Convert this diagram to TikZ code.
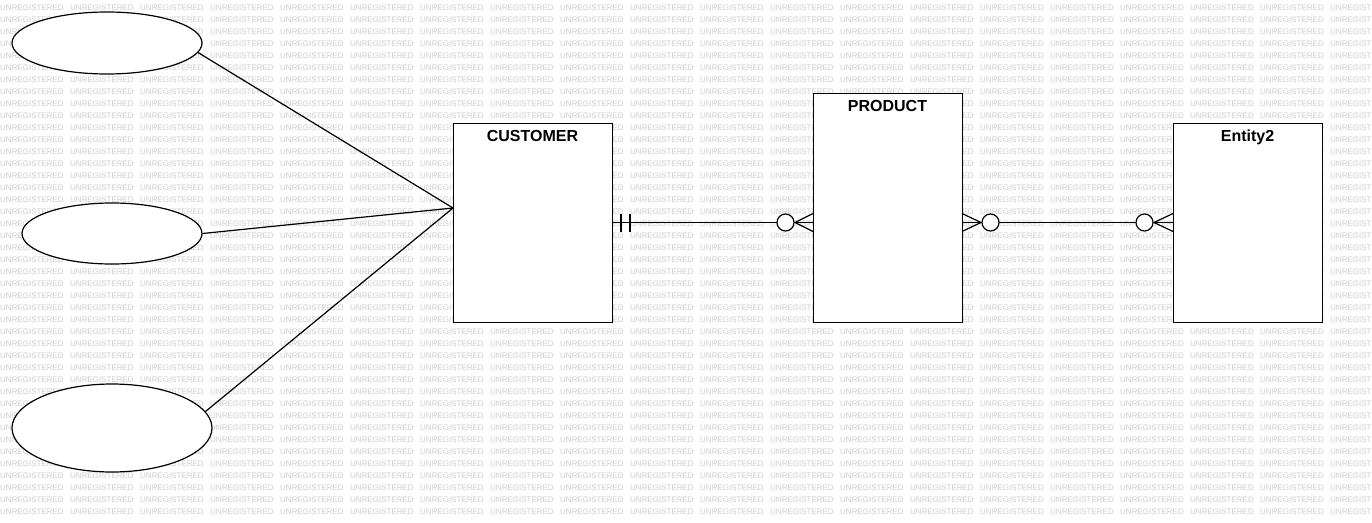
\documentclass[tikz,border=0pt]{standalone}
\usepackage{fontspec}
\setmainfont{Liberation Sans}
\usetikzlibrary{positioning,shapes.geometric}

\begin{document}
\begin{tikzpicture}[x=1pt,y=-1pt,
    entity/.style={draw, fill=white, line width=1pt, inner sep=0pt},
    attr/.style={ellipse, draw, fill=white, line width=1.2pt, inner sep=0pt},
    title/.style={font=\fontsize{16}{19}\selectfont\bfseries, inner sep=0pt},
    wmark/.style={anchor=west, inner sep=0pt, text=black!20, font=\fontsize{8}{9}\selectfont},
    link/.style={line width=1.2pt},
    zero/.style={circle, draw, fill=white, line width=1.2pt, minimum size=17pt, inner sep=0pt}]
        \useasboundingbox (0,0) rectangle (1372,522);
        % Watermark
        \foreach \r in {0,...,42} {
            \foreach \c in {0,...,19} {
                \node[wmark] (w-\r-\c) at (\c*70, 8+\r*12) {UNREGISTERED};
            }
        }
        % Nodes
        \node (customer) at (532.5,222.5) [entity, minimum width=159pt, minimum height=199pt] {};
        \node (product) at (887.5,207.5) [entity, minimum width=149pt, minimum height=229pt] {};
        \node (entity2) at (1247.5,222.5) [entity, minimum width=149pt, minimum height=199pt] {};
        \node (customer-t) [title, below=7.5pt of customer.north] {CUSTOMER};
        \node (product-t) [title, below=7.5pt of product.north] {PRODUCT};
        \node (entity2-t) [title, below=7.5pt of entity2.north] {Entity2};
        \node (attr1) at (107,43) [attr, minimum width=190pt, minimum height=62pt] {};
        \node (attr2) at (112,233.5) [attr, minimum width=180pt, minimum height=61pt] {};
        \node (attr3) at (112,428) [attr, minimum width=200pt, minimum height=88pt] {};
        \coordinate (cjoin) at (453,208);
        % Edges
        \draw[link] (attr1.-6) -- (cjoin);
        \draw[link] (attr2.east) -- (cjoin);
        \draw[link] (attr3.10) -- (cjoin);
        \draw[link] (customer.east) -- (customer.east -| product.west);
        \draw[link] (product.east |- customer.east) -- (entity2.west);
        % Ends
        \draw[link] (621,213.5) -- (621,231.5);
        \draw[link] (630,213.5) -- (630,231.5);
        \draw[link] (813,213.5) -- (795,222.5) -- (813,231.5);
        \draw[link] (962,213.5) -- (981,222.5) -- (962,231.5);
        \draw[link] (1173,213.5) -- (1154,222.5) -- (1173,231.5);
        \node (z1) at (785.5,222.5) [zero] {};
        \node (z2) at (990.5,222.5) [zero] {};
        \node (z3) at (1144.5,222.5) [zero] {};
    \end{tikzpicture}
\end{document}
